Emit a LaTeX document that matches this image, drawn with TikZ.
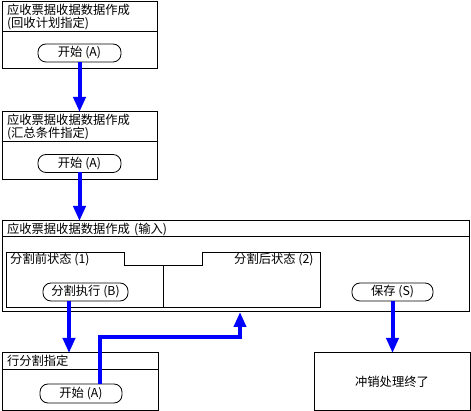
\documentclass[tikz,border=0pt]{standalone}
\usepackage{fontspec}
\newfontfamily\cjk{Noto Sans CJK SC}
\usetikzlibrary{positioning,arrows.meta,calc}

\begin{document}
\begin{tikzpicture}[
    x=1pt, y=-1pt,
    font=\cjk\fontsize{12.3}{13}\selectfont,
    >={Triangle[width=12pt,length=15pt]},
    flow/.style={->, line width=4pt, draw=blue},
    panel/.style={draw=black, line width=1pt, outer sep=0pt, inner sep=0pt},
    head/.style={panel, align=left, inner xsep=5pt, anchor=center},
    pill/.style={draw=black, line width=0.8pt, rounded corners=8pt, outer sep=0pt,
        minimum height=18pt, inner sep=0pt}
]
\useasboundingbox (0,0) rectangle (471,411);

% box 1
\node[head, text width=145pt, minimum height=30pt] (h1) at (79.5,17) {应收票据收据数据作成\\(回收计划指定)};
\node[panel, below=0pt of h1, minimum width=155pt, minimum height=37pt] (b1) {};
\node[pill, minimum width=83pt] (p1) at (79.5,53) {开始 (A)};

% box 2
\node[head, text width=145pt, minimum height=30pt] (h2) at (79.5,127) {应收票据收据数据作成\\(汇总条件指定)};
\node[panel, below=0pt of h2, minimum width=155pt, minimum height=38pt] (b2) {};
\node[pill, minimum width=83pt] (p2) at (79.5,163.5) {开始 (A)};

% box 3
\node[head, text width=457pt, minimum height=16pt] (h3) at (235.5,229) {应收票据收据数据作成 (输入)};
\node[panel, below=0pt of h3, minimum width=467pt, minimum height=75pt] (b3) {};
\draw[line width=1pt] (6,308) -- (6,253) -- (124,253) -- (124,266) -- (202,266)
    -- (202,253) -- (320,253) -- (320,308) -- cycle;
\draw[line width=1pt] (163,266) -- (163,308);
\node[anchor=west, inner sep=0pt] (t1) at (10,260) {分割前状态 (1)};
\node[anchor=west, inner sep=0pt] (t2) at (234,260) {分割后状态 (2)};
\node[pill, minimum width=85pt] (exec) at (85.5,292) {分割执行 (B)};
\node[pill, minimum width=81pt] (save) at (392.5,292) {保存 (S)};

% box 4
\node[head, text width=146pt, minimum height=16pt] (h4) at (80,361) {行分割指定};
\node[panel, below=0pt of h4, minimum width=156pt, minimum height=41pt] (b4) {};
\node[pill, minimum width=82pt, minimum height=19pt] (p4) at (81,393.5) {开始 (A)};

% box 5
\node[panel, minimum width=156pt, minimum height=57pt] (fin) at (392,381.5) {冲销处理终了};

\coordinate (turn) at (240,337);

\draw[flow] (p1) -- (h2);
\draw[flow] (p2.south) -- (p2.south |- h3.north);
\draw[flow] ([xshift=-16.5pt]exec.south) -- ([xshift=-16.5pt]exec.south |- h4.north);
\draw[flow] ([xshift=19pt]p4.north) |- (turn) -- (turn |- b3.south);
\draw[flow] (save.south) -- (save.south |- fin.north);
\end{tikzpicture}
\end{document}
